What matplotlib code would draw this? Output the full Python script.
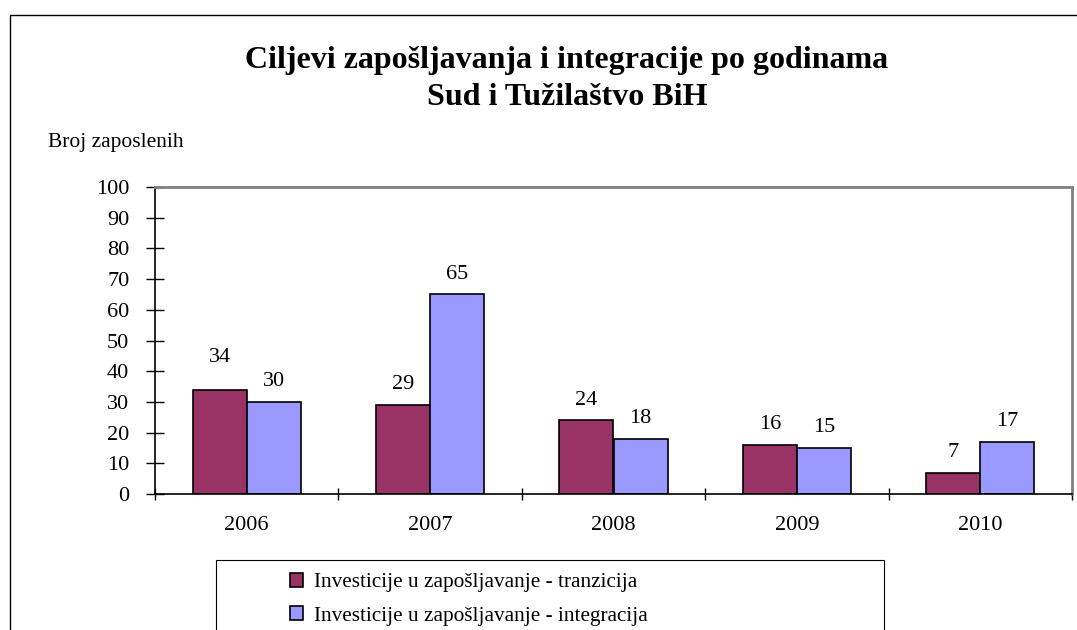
import matplotlib.pyplot as plt
from matplotlib.patches import Rectangle
import numpy as np

plt.rcParams['font.family'] = ['Liberation Serif', 'DejaVu Serif']

years = ["2006", "2007", "2008", "2009", "2010"]
tranzicija = [34, 29, 24, 16, 7]
integracija = [30, 65, 18, 15, 17]
labels = ["Investicije u zapošljavanje - tranzicija",
          "Investicije u zapošljavanje - integracija"]

W, H = 1077, 630
fig = plt.figure(figsize=(W / 100, H / 100), dpi=100)

# outer chart frame (clipped at right and bottom like the reference)
fig.patches.append(Rectangle((10 / W, -0.1), 1.2, 1.1 - 15 / H, transform=fig.transFigure,
                             fill=False, edgecolor='black', linewidth=1.0))

ax = fig.add_axes([155 / W, 1 - 494 / H, (1072 - 155) / W, (494 - 187) / H])

x = np.arange(len(years))
bw = 0.295
b1 = ax.bar(x - bw / 2, tranzicija, bw, color='#993366', edgecolor='black', linewidth=1.2,
            label=labels[0])
b2 = ax.bar(x + bw / 2, integracija, bw, color='#9999FF', edgecolor='black', linewidth=1.2,
            label=labels[1])

for bars, vals in ((b1, tranzicija), (b2, integracija)):
    for rect, v in zip(bars, vals):
        off = 23 if (v == 34) else 14.5
        ax.annotate(str(v), (rect.get_x() + rect.get_width() / 2, v),
                    xytext=(0, off), textcoords='offset points',
                    ha='center', va='center', fontsize=16)

ax.set_xlim(-0.5, len(years) - 0.5)
ax.set_ylim(0, 100)
ax.set_yticks(range(0, 101, 10))
ax.set_xticks(x)
ax.set_xticklabels(years)
ax.set_xticks(np.arange(-0.5, len(years)), minor=True)
ax.tick_params(axis='x', which='major', length=0, pad=16, labelsize=16)
ax.tick_params(axis='x', which='minor', direction='inout', length=8, width=1)
ax.tick_params(axis='y', direction='inout', length=13, width=1, pad=12, labelsize=16)

for s in ('left', 'bottom'):
    ax.spines[s].set_color('black')
    ax.spines[s].set_linewidth(1.2)
for s in ('top', 'right'):
    ax.spines[s].set_color('#808080')
    ax.spines[s].set_linewidth(2)

fig.text(567 / W, 1 - 79 / H, "Ciljevi zapošljavanja i integracije po godinama\nSud i Tužilaštvo BiH",
         ha='center', va='center', fontsize=23, fontweight='bold', linespacing=1.36)
fig.text(48 / W, 1 - 143 / H, "Broj zaposlenih", ha='left', va='center', fontsize=15.5)

# legend box
fig.patches.append(Rectangle((216 / W, -0.1), (884 - 216) / W, 0.1 + 1 - 560 / H,
                             transform=fig.transFigure, fill=False,
                             edgecolor='black', linewidth=0.8))
fig.legend(handles=[b1, b2], loc='upper left', bbox_to_anchor=(271 / W, 1 - 554 / H),
           frameon=False, fontsize=15.3, handlelength=0.62, handleheight=0.62,
           handletextpad=0.5, labelspacing=0.65)

fig.savefig("out.png", dpi=100)
